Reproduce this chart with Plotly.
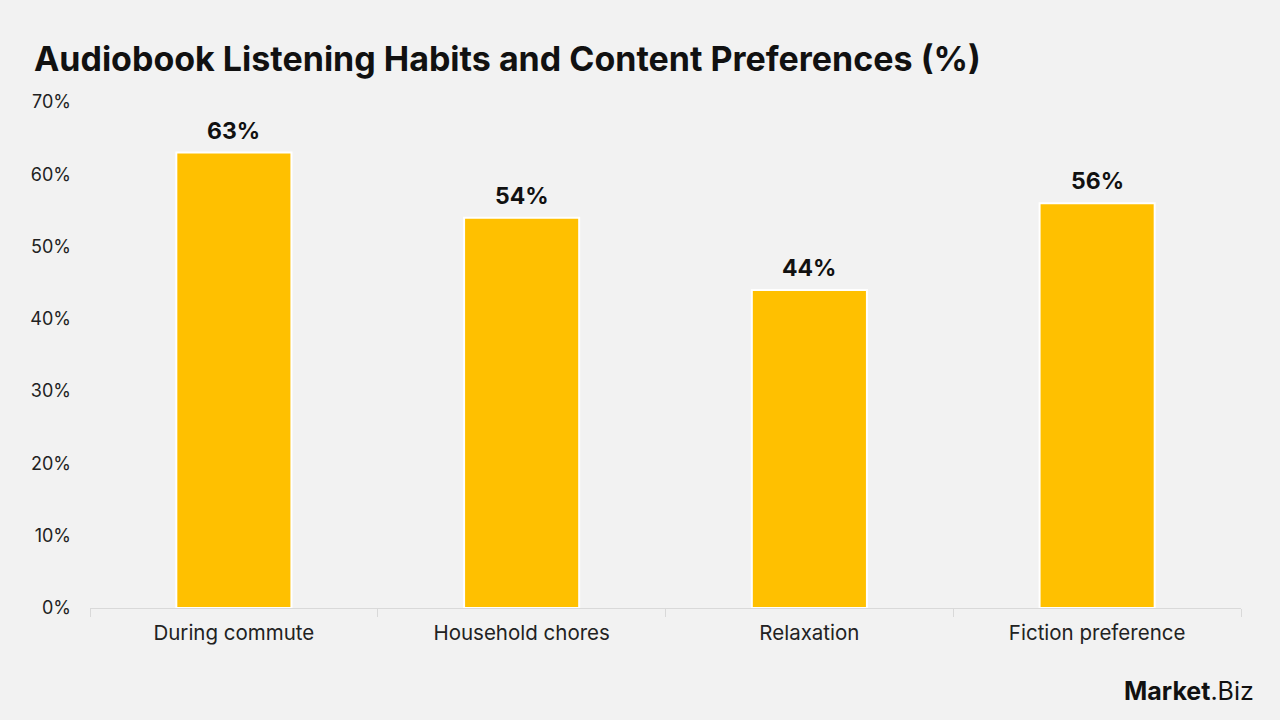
import plotly.graph_objects as go

categories = ["During commute", "Household chores", "Relaxation", "Fiction preference"]
values = [63, 54, 44, 56]
labels = [f"{v}%" for v in values]
tick_vals = [0, 10, 20, 30, 40, 50, 60, 70]
tick_text = [f"{v}%" for v in tick_vals]

FONT = "Inter, Lato, 'Open Sans', sans-serif"

fig = go.Figure(go.Bar(
    x=categories, y=values,
    marker=dict(color="#FFC000", line=dict(color="white", width=2)),
    hoverinfo="x+y",
))

for c, v, t in zip(categories, values, labels):
    fig.add_annotation(x=c, y=v, text=f"<b>{t}</b>", showarrow=False,
                       yanchor="bottom", yshift=6,
                       font=dict(family=FONT, size=23, color="#111111"))

fig.update_layout(
    width=1280, height=720,
    paper_bgcolor="#f2f2f2", plot_bgcolor="#f2f2f2",
    margin=dict(l=90, r=39, t=102, b=112),
    bargap=0.6,
    showlegend=False,
    font=dict(family=FONT, color="#222222"),
    title=dict(text="<b>Audiobook Listening Habits and Content Preferences (%)</b>",
               x=0.0265, xanchor="left", y=0.918, yanchor="middle",
               font=dict(family=FONT, size=34, color="#111111")),
    xaxis=dict(showgrid=False, showline=True, linecolor="#d9d9d9", linewidth=1,
               ticks="outside", tickson="boundaries", ticklen=8, tickcolor="#d9d9d9",
               tickfont=dict(size=20.5, color="#222222"), ticklabelstandoff=6,
               fixedrange=True),
    yaxis=dict(range=[0, 70], tickvals=tick_vals, ticktext=tick_text,
               showgrid=False, zeroline=False, showline=False,
               tickfont=dict(size=18, color="#222222"), ticklabelstandoff=18),
)

fig.add_annotation(
    text="<b>Market</b>.Biz", xref="paper", yref="paper",
    x=1.0, y=-0.165, xanchor="right", yanchor="middle", showarrow=False,
    xshift=15,
    font=dict(family=FONT, size=25, color="#111111"),
)

fig.write_html("out.html")
